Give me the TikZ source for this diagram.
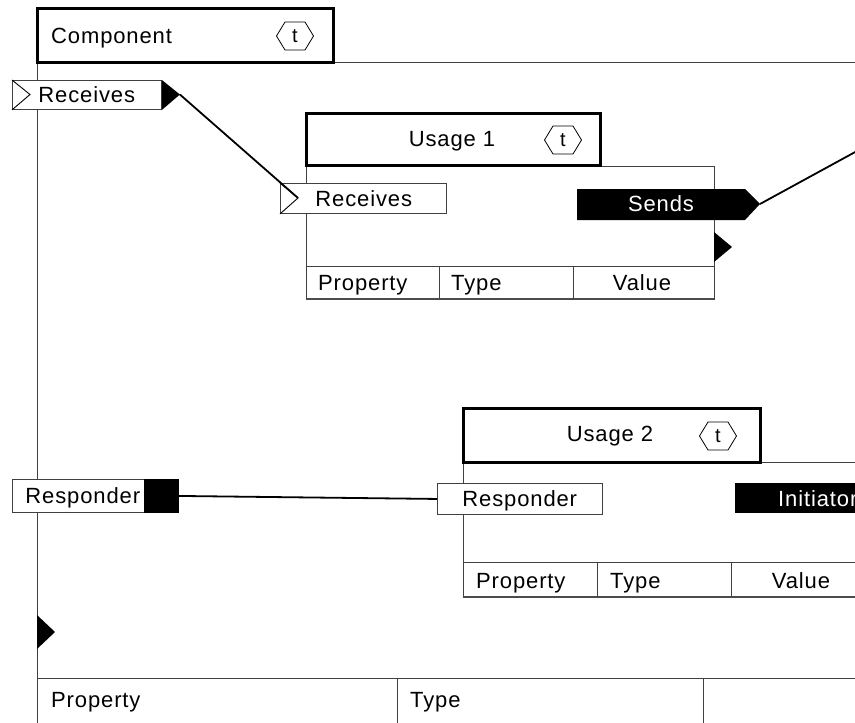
\documentclass[tikz,border=0pt]{standalone}
\usepackage{fontspec}
\setmainfont{Liberation Sans}
\newfontfamily\spacedsans[LetterSpace=4]{Liberation Sans}
\newcommand{\lblfont}{\fontsize{22}{22}\selectfont\spacedsans}
\begin{document}
\begin{tikzpicture}[x=1pt,y=-1pt,
  frameline/.style={draw=black!75, line width=1pt},
  headbox/.style={draw=black, line width=3pt},
  rowline/.style={draw=black!70, line width=1.6pt},
  wire/.style={draw=black, line width=1.8pt},
  lbl/.style={inner sep=0pt, font=\lblfont},
  portbox/.style={draw=black!75, fill=white, line width=0.9pt, inner sep=0pt,
    anchor=north west, align=left, font=\lblfont, text height=16pt, text depth=0pt},
  hexbox/.pic={
    \draw[line width=0.8pt] (-18.5,0) -- (-10,-14) -- (10,-14) -- (18.5,0) -- (10,14) -- (-10,14) -- cycle;
    \node[inner sep=0pt, font=\fontsize{20}{20}\selectfont] (-t) at (0,0) {t};
  }]
\useasboundingbox (0,0) rectangle (855,723);
\fill[white] (0,0) rectangle (855,723);
\clip (0,0) rectangle (855,723);

% ---------- Component frame ----------
\draw[frameline] (333,62) -- (870,62);
\draw[frameline] (37,62) -- (37,730);
\draw[headbox] (37,8) rectangle (333,62);
\node[lbl, anchor=base west] (compName) at (51,43) {Component};
\pic (hexC) at (295,36) {hexbox};

% component property table
\draw[frameline] (37,678) -- (870,678);
\draw[frameline] (397,678) -- (397,730);
\draw[frameline] (703,678) -- (703,730);
\node[lbl, anchor=base west] (compProp) at (51,707) {Property};
\node[lbl, anchor=base west] (compType) at (410,707) {Type};

% component side marker
\fill[black] (37,615) -- (55,632) -- (37,649) -- cycle;

% ---------- Usage 1 ----------
\draw[frameline] (600,166) -- (714,166) -- (714,300);
\draw[frameline] (306,165) -- (306,300);
\draw[frameline] (306,266) -- (714,266);
\draw[rowline] (306,299) -- (714,299);
\draw[frameline] (439,266) -- (439,299);
\draw[frameline] (573,266) -- (573,299);
\draw[headbox] (306,113) rectangle (600,165);
\node[lbl, anchor=base] (u1Name) at (452,146) {Usage 1};
\pic (hexU1) at (563,140) {hexbox};
\node[lbl, anchor=base west] (u1Prop) at (318,290) {Property};
\node[lbl, anchor=base west] (u1Type) at (451,290) {Type};
\node[lbl, anchor=base] (u1Value) at (642,290) {Value};
\fill[black] (714,232) -- (732,247) -- (714,262) -- cycle;

% inner Receives port
\node[portbox, minimum height=30pt, text width=166pt] (recvIn) at (280,183) {\hspace*{35pt}Receives};
\draw[line width=0.9pt] (recvIn.north west) -- ++(18,15) coordinate (recvInTip) -- (recvIn.south west);

% Sends port
\fill[black] (577,189) -- (745,189) -- (760,204) -- (745,220) -- (577,220) -- cycle;
\node[inner sep=0pt, text=white, font=\lblfont, anchor=base] (sends) at (661,211) {Sends};
\coordinate (sendsTip) at (760,204);
\coordinate (sendsOut) at (890,133);
\draw[wire] (sendsTip) -- (sendsOut);

% ---------- Usage 2 ----------
\draw[frameline] (760,462) -- (870,462);
\draw[frameline] (463,462) -- (463,598);
\draw[frameline] (463,562) -- (870,562);
\draw[rowline] (463,597) -- (870,597);
\draw[frameline] (597,562) -- (597,597);
\draw[frameline] (731,562) -- (731,597);
\draw[headbox] (463,408) rectangle (760,462);
\node[lbl, anchor=base] (u2Name) at (610,441) {Usage 2};
\pic (hexU2) at (718,436) {hexbox};
\node[lbl, anchor=base west] (u2Prop) at (476,588) {Property};
\node[lbl, anchor=base west] (u2Type) at (610,588) {Type};
\node[lbl, anchor=base] (u2Value) at (801,588) {Value};

% inner Responder port
\node[portbox, minimum height=31pt, text width=165pt] (respIn) at (437,483) {\hspace*{25pt}Responder};

% Initiator port
\fill[black] (735,483) rectangle (880,513);
\node[inner sep=0pt, text=white, font=\lblfont, anchor=base west] (initiator) at (778,506) {Initiator};

% ---------- outer ports ----------
\node[portbox, minimum height=29pt, text width=149pt] (recvOut) at (12,80) {\hspace*{26pt}Receives};
\draw[line width=0.9pt] (recvOut.north west) -- ++(18,14.5) -- (recvOut.south west);
\fill[black] (recvOut.north east) -- ++(18,14.5) coordinate (recvOutTip) -- (recvOut.south east) -- cycle;

\node[portbox, minimum height=33pt, text width=166pt] (respOut) at (12,479) {\hspace*{13pt}Responder};
\fill[black] (144,479) rectangle (respOut.south east);

% ---------- connectors ----------
\draw[wire] (recvOutTip) -- (recvInTip);
\draw[wire] (respOut.east) -- (respIn.west);
\end{tikzpicture}
\end{document}
